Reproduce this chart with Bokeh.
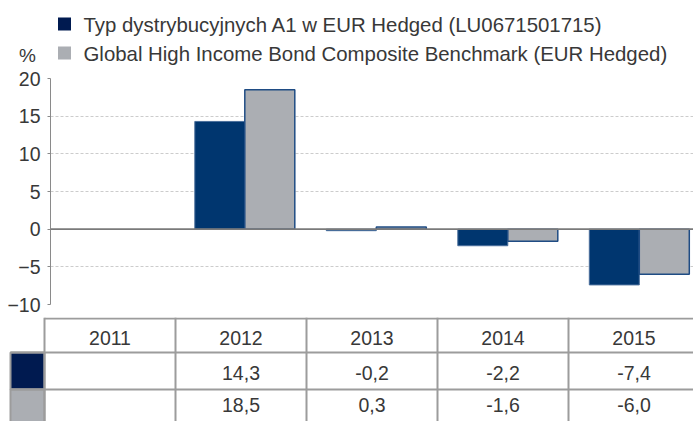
import numpy as np
from bokeh.plotting import figure
from bokeh.models import Range1d, FixedTicker, ColumnDataSource, Span
from bokeh.layouts import column
from bokeh.core.properties import value
from bokeh.embed import file_html
from bokeh.resources import INLINE

# ---- data ----
years = ["2011", "2012", "2013", "2014", "2015"]
fund = [None, 14.3, -0.2, -2.2, -7.4]
bench = [None, 18.5, 0.3, -1.6, -6.0]
fund_name = "Typ dystrybucyjnych A1 w EUR Hedged (LU0671501715)"
bench_name = "Global High Income Bond Composite Benchmark (EUR Hedged)"
y_ticks = [-10, -5, 0, 5, 10, 15, 20]

FONT = "Liberation Sans"
TXT = "#383838"
NAVY = "#00366f"
NAVY_DARK = "#001a50"
GREY = "#abaeb3"
W = 693

def fmt(v):
    return "" if v is None else f"{v:.1f}".replace(".", ",")

def base(height, **kw):
    p = figure(width=W, height=height, output_backend="svg", toolbar_location=None,
               min_border_left=0, min_border_right=0, min_border_top=0, min_border_bottom=0,
               **kw)
    p.outline_line_color = None
    p.background_fill_color = "white"
    p.border_fill_color = "white"
    p.frame_align = False
    return p

# ---- header (legend + % label) ----
hdr = base(68, x_range=Range1d(0, W), y_range=Range1d(68, 0))
hdr.axis.visible = False
hdr.grid.visible = False
hdr.rect(x=[64, 64], y=[23.5, 52.5], width=13, height=13, width_units="screen",
         height_units="screen", fill_color=[NAVY_DARK, GREY], line_color=None)
hdr.text(x=[83, 83], y=[24, 53], text=[fund_name, bench_name], text_font=value(FONT),
         text_font_size="20.4px", text_color=TXT, text_baseline="middle", text_align="left")
hdr.text(x=[27], y=[55], text=["%"], text_font=value(FONT), text_font_size="19px",
         text_color=TXT, text_baseline="middle", text_align="center")

# ---- chart ----
idx = np.arange(len(years), dtype=float)
c0 = 112.8
step = 131.5
xr = Range1d((50 - c0) / step, (W - c0) / step)
ch = base(249, x_range=xr, y_range=Range1d(-10, 20))
ch.min_border_left = 50
ch.min_border_top = 10
ch.min_border_bottom = 13
ch.xaxis.visible = False
ch.xgrid.visible = False
ch.ygrid.ticker = FixedTicker(ticks=y_ticks)
ch.ygrid.grid_line_color = "#cccccc"
ch.ygrid.grid_line_dash = "3 2"
ch.ygrid.grid_line_width = 1
ya = ch.yaxis[0]
ya.ticker = FixedTicker(ticks=y_ticks)
ya.major_label_text_font = FONT
ya.major_label_text_font_size = "19.5px"
ya.major_label_text_color = TXT
ya.axis_line_color = "#8a8a8a"
ya.axis_line_width = 1
ya.major_tick_line_color = "#8a8a8a"
ya.major_tick_out = 3
ya.major_tick_in = 0
ya.minor_tick_line_color = None
ya.major_label_standoff = 7

bw = 50 / step
fi = [i for i, v in enumerate(fund) if v is not None]
bi = [i for i, v in enumerate(bench) if v is not None]
src_f = ColumnDataSource(dict(x=[idx[i] - bw / 2 for i in fi], top=[fund[i] for i in fi]))
src_b = ColumnDataSource(dict(x=[idx[i] + bw / 2 for i in bi], top=[bench[i] for i in bi]))
ch.vbar(x="x", top="top", bottom=0, width=bw, source=src_f, fill_color=NAVY,
        line_color="#4a6f9c", line_width=1)
ch.vbar(x="x", top="top", bottom=0, width=bw, source=src_b, fill_color=GREY,
        line_color="#1f4c84", line_width=1.5)
ch.add_layout(Span(location=0, dimension="width", line_color="#7a7a7a", line_width=1.6))

# ---- table ----
t0 = 109.5
tstep = 131.0
tb = base(104, x_range=Range1d(-t0 / tstep, (W - t0) / tstep), y_range=Range1d(104, 0))
tb.axis.visible = False
tb.grid.visible = False
LC = "#9c9c9c"
left_sq = (10 - t0) / tstep
tb.quad(left=[left_sq, left_sq], right=[-0.5, -0.5], top=[35, 72], bottom=[72, 110],
        fill_color=[NAVY_DARK, GREY], line_color=LC, line_width=2)
tb.segment(x0=[-0.5, left_sq, left_sq], x1=[5, 5, 5], y0=[1, 35, 72], y1=[1, 35, 72],
           line_color=LC, line_width=2)
vx = [i - 0.5 for i in range(len(years) + 1)]
tb.segment(x0=vx, x1=vx, y0=[0] * len(vx), y1=[110] * len(vx), line_color=LC, line_width=2)
tb.text(x=idx, y=[20] * len(years), text=years, text_font=value(FONT), text_font_size="19.5px",
        text_color=TXT, text_align="center", text_baseline="middle")
tb.text(x=idx, y=[55] * len(years), text=[fmt(v) for v in fund], text_font=value(FONT),
        text_font_size="19.5px", text_color=TXT, text_align="center", text_baseline="middle")
tb.text(x=idx, y=[87] * len(years), text=[fmt(v) for v in bench], text_font=value(FONT),
        text_font_size="19.5px", text_color=TXT, text_align="center", text_baseline="middle")

layout = column(hdr, ch, tb, spacing=0)
open("out.html", "w").write(file_html(layout, INLINE))
